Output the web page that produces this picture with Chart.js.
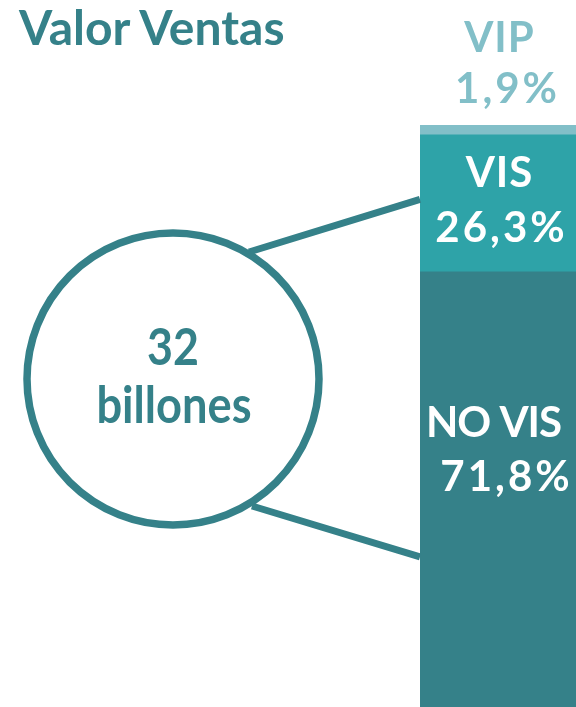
<!DOCTYPE html>
<html>
<head>
<meta charset="utf-8">
<script src="https://cdn.jsdelivr.net/npm/chart.js@4"></script>
<style>
  html,body{margin:0;padding:0;background:#fff;}
  #wrap{position:relative;width:576px;height:707px;overflow:hidden;}
  #chart{position:absolute;left:0;top:0;}
  .txt{position:absolute;color:#358189;font-family:Lato,sans-serif;font-weight:700;white-space:nowrap;line-height:1;}
  #title{left:19px;top:3px;font-size:48px;}
  #big{left:0;width:346px;text-align:center;top:319px;font-size:52px;transform:scaleX(0.86);transform-origin:173px 0;}
  #unit{left:0;width:348px;text-align:center;top:377px;font-size:52px;transform:scaleX(0.87);transform-origin:174px 0;}
</style>
</head>
<body>
<div id="wrap">
  <canvas id="chart" width="576" height="707"></canvas>
  <div id="title" class="txt">Valor Ventas</div>
  <div id="big" class="txt">32</div>
  <div id="unit" class="txt">billones</div>
</div>
<script>
const $ = (id)=>document.getElementById(id);

// data
const categories = ['Valor Ventas'];
const segNames = ['NO VIS', 'VIS', 'VIP'];
const segValues = [71.8, 26.3, 1.9];
const segLabels = ['71,8%', '26,3%', '1,9%'];
const segColors = ['#358189', '#2EA3A8', '#82BFC8'];

const teal = '#358189';
const axisMin = -11.7;   // bar runs off the bottom of the frame

// label lines: [dx, dy from segment top, 0=name/1=value, letter spacing]
const labelSpots = {
  'NO VIS': { color:'#fff', lines:[[-4,165,0,-1],[7,219,1,3]] },
  'VIS':    { color:'#fff', lines:[[1,52,0,1],[2,107,1,3]] },
  'VIP':    { color:'#82BFC8', lines:[[1,-73,0,1],[8,-22,1,3]] }
};

const decoPlugin = {
  id:'deco',
  afterDatasetsDraw(chart){
    const ctx = chart.ctx;
    // circle + connectors
    const cx = 173, cy = 379, r = 146;
    const vis = chart.getDatasetMeta(1).data[0];
    const novis = chart.getDatasetMeta(0).data[0];
    const left = chart.chartArea.left;
    ctx.save();
    ctx.strokeStyle = teal;
    ctx.lineWidth = 7;
    ctx.beginPath();
    ctx.moveTo(249, 252); ctx.lineTo(left, (vis.y + vis.base)/2 - 4);
    ctx.moveTo(252, 506); ctx.lineTo(left, novis.y + 285);
    ctx.stroke();
    ctx.lineWidth = 7.5;
    ctx.beginPath();
    ctx.arc(cx, cy, r, 0, Math.PI*2);
    ctx.stroke();

    // segment labels
    ctx.font = '700 42px Lato, sans-serif';
    ctx.textAlign = 'center';
    ctx.textBaseline = 'alphabetic';
    const midX = (chart.chartArea.left + chart.chartArea.right)/2;
    chart.data.datasets.forEach((ds, i)=>{
      const el = chart.getDatasetMeta(i).data[0];
      const spot = labelSpots[ds.label];
      ctx.fillStyle = spot.color;
      spot.lines.forEach(([dx, dy, k, ls])=>{
        const txt = k === 0 ? ds.label : segLabels[i];
        ctx.letterSpacing = ls + 'px';
        ctx.fillText(txt, midX + dx + ls/2, el.y + dy);
      });
    });
    ctx.restore();
  }
};

new Chart($('chart').getContext('2d'), {
  type:'bar',
  data:{
    labels: categories,
    datasets: segNames.map((n, i)=>({
      label: n,
      data: [segValues[i]],
      backgroundColor: segColors[i],
      borderWidth: 0,
      barPercentage: 1,
      categoryPercentage: 1,
      base: i === 0 ? axisMin : undefined
    }))
  },
  options:{
    responsive:false,
    animation:false,
    devicePixelRatio:1,
    layout:{ padding:{ top:125, left:420, right:0, bottom:0 } },
    plugins:{ legend:{ display:false }, tooltip:{ enabled:false }, title:{ display:false } },
    scales:{
      x:{ display:false, stacked:true, grid:{ display:false } },
      y:{ display:false, stacked:true, min:axisMin, max:100, grid:{ display:false } }
    }
  },
  plugins:[decoPlugin]
});
</script>
</body>
</html>
